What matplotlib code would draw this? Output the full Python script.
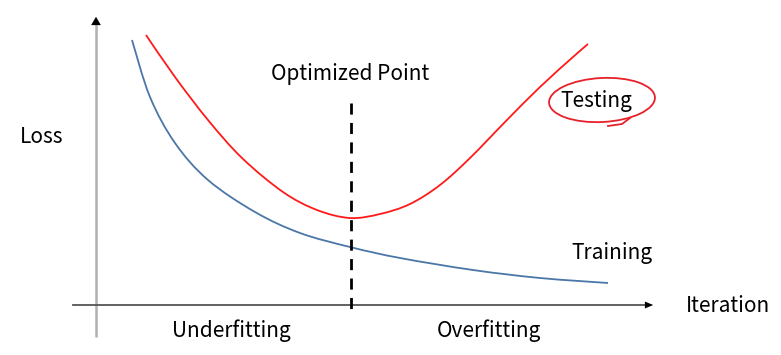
import numpy as np
import matplotlib.pyplot as plt
from matplotlib.patches import Ellipse, PathPatch
from matplotlib.path import Path

plt.rcParams['font.family'] = ['Noto Sans CJK KR', 'DejaVu Sans']

# curve points (pixel coordinates, y grows downwards)
train_x = [132, 150, 175, 208, 255, 300, 350, 400, 473, 540, 608]
train_y = [40, 97, 143, 180, 212, 233, 247, 258, 270, 278, 283]

test_x = [146, 175, 208, 242, 283, 317, 350, 380, 410, 440, 470, 505, 540, 573, 588]
test_y = [35, 77, 120, 158, 192, 210, 218, 214, 204, 185, 158, 122, 87, 57, 44]

opt_x = 351


def smooth_path(xs, ys):
    ''' кривая безье через точки (catmull-rom) '''
    p = np.column_stack([xs, ys]).astype(float)
    verts = [p[0]]
    codes = [Path.MOVETO]
    for i in range(len(p) - 1):
        p0 = p[i - 1] if i > 0 else p[i]
        p3 = p[i + 2] if i + 2 < len(p) else p[i + 1]
        c1 = p[i] + (p[i + 1] - p0) / 6
        c2 = p[i + 1] - (p3 - p[i]) / 6
        verts += [c1, c2, p[i + 1]]
        codes += [Path.CURVE4] * 3
    return Path(verts, codes)


W, H = 781, 355
fig = plt.figure(figsize=(W / 100, H / 100), dpi=100)
ax = fig.add_axes([0, 0, 1, 1])
ax.set_xlim(0, W)
ax.set_ylim(H, 0)
ax.axis('off')

# axes with arrows
ax.plot([96, 96], [337, 22], color='#b0b0b0', lw=1.8, solid_capstyle='butt')
ax.annotate('', xy=(96, 14), xytext=(96, 24),
            arrowprops=dict(arrowstyle='-|>,head_width=0.35,head_length=0.6', color='black', lw=0))
ax.plot([73, 648], [305, 305], color='#555555', lw=1.3)
ax.annotate('', xy=(656, 305), xytext=(645, 305),
            arrowprops=dict(arrowstyle='-|>,head_width=0.25,head_length=0.6', color='black', lw=0))

# curves
ax.add_patch(PathPatch(smooth_path(train_x, train_y), fill=False, ec='#4a76a8', lw=1.3))
ax.add_patch(PathPatch(smooth_path(test_x, test_y), fill=False, ec='#ff1a1a', lw=1.3))

# optimized point
ax.plot([opt_x, opt_x], [103, 316], color='black', lw=2, ls=(0, (4, 3)))

fs = 15
ax.text(350, 74, 'Optimized Point', ha='center', va='center', fontsize=fs)
ax.text(42, 137, 'Loss', ha='center', va='center', fontsize=fs)
ax.text(596, 101, 'Testing', ha='center', va='center', fontsize=fs)
ax.text(612, 253, 'Training', ha='center', va='center', fontsize=fs)
ax.text(231, 331, 'Underfitting', ha='center', va='center', fontsize=fs)
ax.text(489, 331, 'Overfitting', ha='center', va='center', fontsize=fs)
ax.text(728, 306, 'Iteration', ha='center', va='center', fontsize=fs)

# hand drawn circle around "Testing"
ax.add_patch(Ellipse((602, 100), 106, 44, angle=-3, fill=False, ec='#e8202a', lw=1.3))
ax.plot([608, 622, 630], [126, 124, 118], color='#e8202a', lw=1.3)

fig.savefig('out.png', dpi=100)
